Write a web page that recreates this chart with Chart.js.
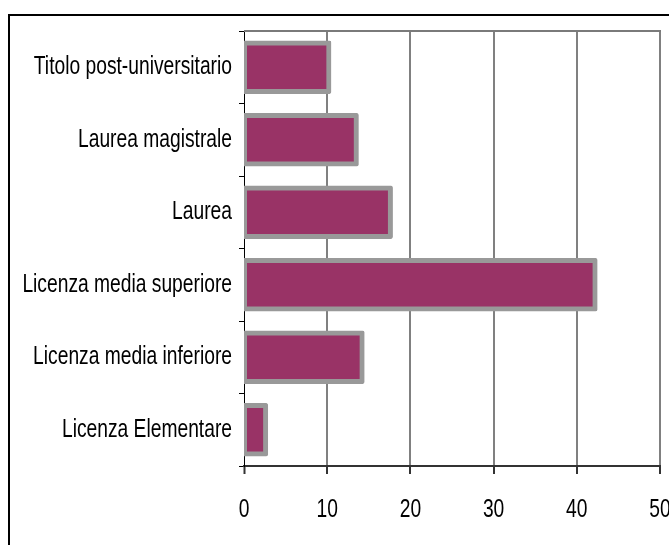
<!DOCTYPE html>
<html>
<head>
<meta charset="utf-8">
<title>Titolo di studio</title>
<script src="https://cdn.jsdelivr.net/npm/chart.js@4/dist/chart.umd.min.js"></script>
<style>
  body { margin: 0; background: #fff; }
  canvas { display: block; }
</style>
</head>
<body>
<canvas id="myChart" width="669" height="545"></canvas>
<script>
// dati
var categorie = [
  'Titolo post-universitario',
  'Laurea magistrale',
  'Laurea',
  'Licenza media superiore',
  'Licenza media inferiore',
  'Licenza Elementare'
];
var valori = [10.2, 13.5, 17.6, 42.2, 14.2, 2.6];
var tick_x = [0, 10, 20, 30, 40, 50];

var font_etichette = "'Liberation Sans', Arial, sans-serif";
var stretta = 0.74; // il testo dell'originale e' schiacciato in orizzontale

var ctx = document.getElementById('myChart').getContext('2d');

// testo piu' stretto: si scala solo in x attorno al punto di ancoraggio
var fillText_orig = ctx.fillText;
ctx.fillText = function (testo, x, y, maxW) {
  this.save();
  this.translate(x, y);
  this.scale(stretta, 1);
  if (maxW === undefined) {
    fillText_orig.call(this, testo, 0, 0);
  } else {
    fillText_orig.call(this, testo, 0, 0, maxW / stretta);
  }
  this.restore();
};

// cornice esterna e bordo superiore dell'area del grafico
var cornice = {
  id: 'cornice',
  beforeDraw: function (chart) {
    var c = chart.ctx;
    c.save();
    c.fillStyle = '#fff';
    c.fillRect(0, 0, chart.width, chart.height);
    c.strokeStyle = '#000';
    c.lineWidth = 2;
    c.strokeRect(9, 15, 800, 700);
    c.restore();
  },
  afterDraw: function (chart) {
    var a = chart.chartArea;
    var c = chart.ctx;
    c.save();
    c.fillStyle = '#7a7a7a';
    c.fillRect(a.left, a.top - 1, a.right - a.left + 1, 2);
    c.restore();
  }
};

var myChart = new Chart(ctx, {
  type: 'bar',
  data: {
    labels: categorie,
    datasets: [{
      data: valori,
      backgroundColor: '#993366',
      borderColor: '#999999',
      borderWidth: 5,
      borderSkipped: false,
      borderRadius: 2,
      inflateAmount: 2.5,
      barPercentage: 0.67,
      categoryPercentage: 1
    }]
  },
  options: {
    indexAxis: 'y',
    responsive: false,
    animation: false,
    devicePixelRatio: 1,
    layout: { padding: { top: 31, right: 9, left: 0, bottom: 0 } },
    plugins: {
      legend: { display: false },
      tooltip: { enabled: false }
    },
    scales: {
      x: {
        min: 0,
        max: 50,
        afterBuildTicks: function (scale) {
          scale.ticks = tick_x.map(function (v) { return { value: v }; });
        },
        afterFit: function (scale) {
          scale.height = 79;
          scale.paddingLeft = 0;
          scale.paddingRight = 0;
        },
        grid: {
          color: function (c) { return c.index === 0 ? '#000' : '#808080'; },
          lineWidth: function (c) { return c.index === 0 ? 1 : 2; },
          tickLength: 8,
          tickColor: '#333',
          tickWidth: 2
        },
        border: { color: '#333', width: 2 },
        ticks: {
          color: '#000',
          padding: 20,
          maxRotation: 0,
          autoSkip: false,
          font: { family: font_etichette, size: 26 }
        }
      },
      y: {
        z: 1,
        afterFit: function (scale) {
          scale.width = 244;
          scale.paddingTop = 0;
          scale.paddingBottom = 0;
        },
        grid: {
          drawOnChartArea: false,
          offset: true,
          tickLength: 5,
          color: '#000'
        },
        border: { color: '#000', width: 1 },
        ticks: {
          color: '#000',
          padding: 7,
          autoSkip: false,
          font: { family: font_etichette, size: 26 }
        }
      }
    }
  },
  plugins: [cornice]
});
</script>
</body>
</html>
